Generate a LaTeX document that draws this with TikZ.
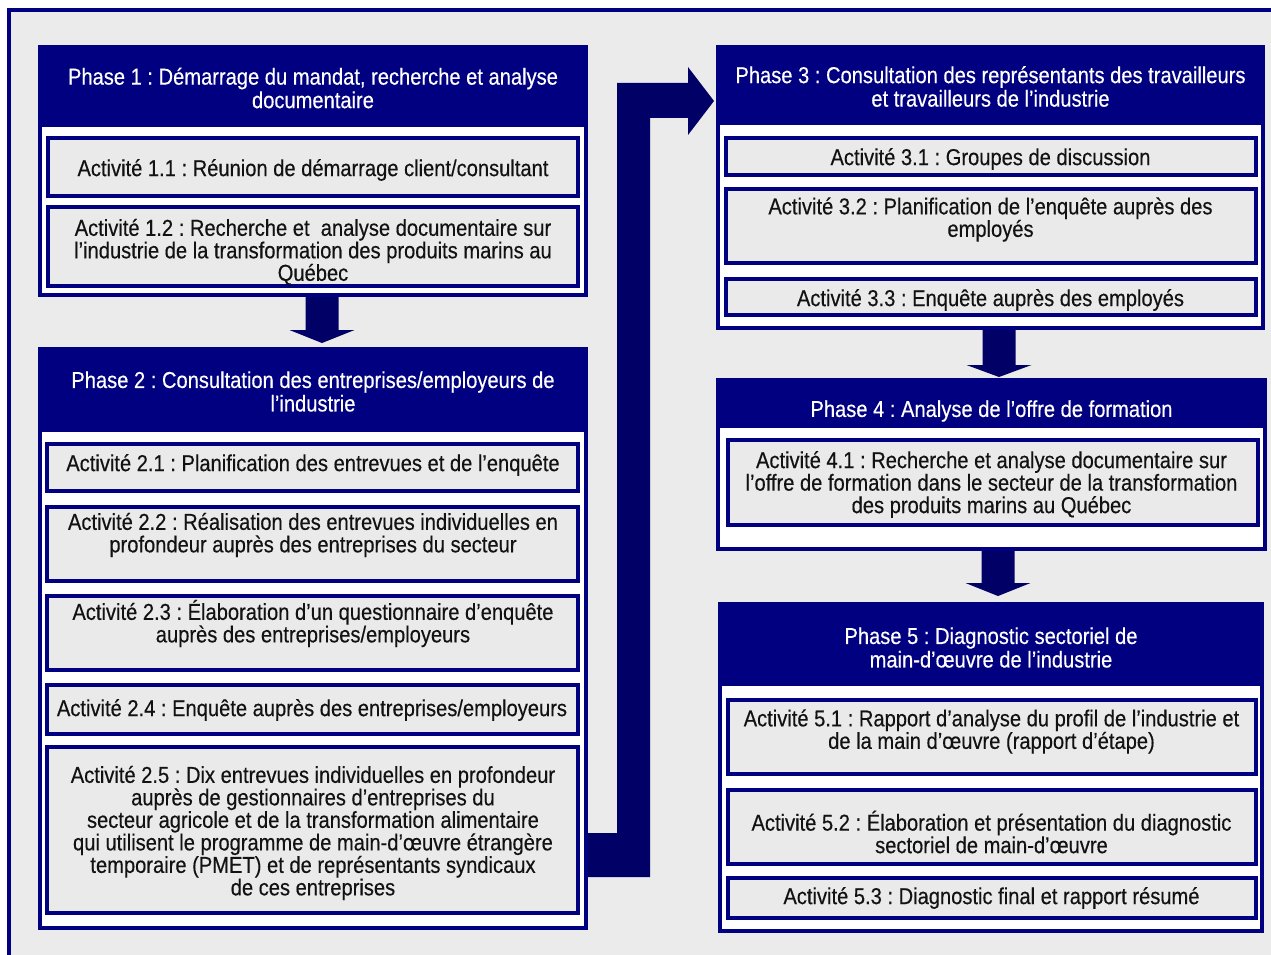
\documentclass[tikz,border=0pt]{standalone}
\usepackage{fontspec}
\setmainfont{Liberation Sans}[FakeStretch=0.875,FakeBold=0.35]
\usetikzlibrary{calc}
\definecolor{navy}{RGB}{0,0,128}
\definecolor{arrownavy}{RGB}{0,0,102}
\definecolor{bggray}{RGB}{235,235,235}
\definecolor{actgray}{RGB}{234,234,234}
\definecolor{txt}{RGB}{18,18,18}
\newcommand\boxnode[6]{\node[#1,minimum width={#5-#3-4},minimum height={#6-#4-4}] (#2) at ({(#3+#5)/2},{(#4+#6)/2}) {};}
\newcommand\phasearrow[3]{\fill[arrownavy] ($(#1)+(-16.5,0)$) -- ++(33,0) -- ++(0,#2) -- ++(16,0) -- ++(-32.5,#3) -- ++(-32.5,-#3) -- ++(16,0) -- cycle;}
\frenchspacing
\begin{document}
\frenchspacing
\begin{tikzpicture}[x=1pt,y=-1pt,
  phasebox/.style={draw=navy,fill=white,line width=4pt,inner sep=0pt,rectangle},
  headbox/.style={draw=navy,fill=navy,line width=4pt,inner sep=0pt,rectangle},
  actbox/.style={draw=navy,fill=actgray,line width=4pt,inner sep=0pt,rectangle},
  htext/.style={text=white,align=center,inner sep=0pt,font=\fontsize{23}{23.5}\selectfont\frenchspacing},
  atext/.style={text=txt,align=center,inner sep=0pt,font=\fontsize{23}{22.5}\selectfont\frenchspacing}]
\useasboundingbox (0,0) rectangle (1271,955);
\clip (0,0) rectangle (1271,955);
\fill[white] (0,0) rectangle (1271,955);
\draw[navy,line width=4pt,fill=bggray] (9,10) rectangle (1290,975);
% Phase 1
\boxnode{phasebox}{p1}{38}{45}{588}{297}
\boxnode{headbox}{p1h}{38}{45}{588}{127}
\node[htext] (p1t) at (313,88) {Phase 1 : Démarrage du mandat, recherche et analyse\\documentaire};
\boxnode{actbox}{a11}{46}{136}{580}{198}
\boxnode{actbox}{a12}{46}{205}{580}{288}
\node[atext] (a11t) at (313,170) {Activité 1.1 : Réunion de démarrage client/consultant};
\node[atext] (a12t) at (313,252) {Activité 1.2 : Recherche et\ \ analyse documentaire sur\\l’industrie de la transformation des produits marins au\\Québec};
% Phase 2
\boxnode{phasebox}{p2}{38}{347}{588}{930}
\boxnode{headbox}{p2h}{38}{347}{588}{432}
\node[htext] (p2t) at (313,391.5) {Phase 2 : Consultation des entreprises/employeurs de\\l’industrie};
\boxnode{actbox}{a21}{45}{442}{580}{493}
\boxnode{actbox}{a22}{45}{505}{580}{583}
\boxnode{actbox}{a23}{45}{594}{580}{672}
\boxnode{actbox}{a24}{45}{683}{580}{736}
\boxnode{actbox}{a25}{45}{745}{580}{915}
\node[atext] (a21t) at (313,465) {Activité 2.1 : Planification des entrevues et de l’enquête};
\node[atext] (a22t) at (313,535) {Activité 2.2 : Réalisation des entrevues individuelles en\\profondeur auprès des entreprises du secteur};
\node[atext] (a23t) at (313,623.5) {Activité 2.3 : Élaboration d’un questionnaire d’enquête\\auprès des entreprises/employeurs};
\node[atext] (a24t) at (312,710) {Activité 2.4 : Enquête auprès des entreprises/employeurs};
\node[atext] (a25t) at (313,833) {Activité 2.5 : Dix entrevues individuelles en profondeur\\auprès de gestionnaires d’entreprises du\\secteur agricole et de la transformation alimentaire\\qui utilisent le programme de main-d’œuvre étrangère\\temporaire (PMET) et de représentants syndicaux\\de ces entreprises};
% Phase 3
\boxnode{phasebox}{p3}{716}{45}{1265}{330}
\boxnode{headbox}{p3h}{716}{45}{1265}{125}
\node[htext] (p3t) at (990.5,86.5) {Phase 3 : Consultation des représentants des travailleurs\\et travailleurs de l’industrie};
\boxnode{actbox}{a31}{724}{136}{1258}{177}
\boxnode{actbox}{a32}{724}{187}{1258}{265}
\boxnode{actbox}{a33}{724}{277}{1258}{317}
\node[atext] (a31t) at (990.5,159) {Activité 3.1 : Groupes de discussion};
\node[atext] (a32t) at (990.5,219.5) {Activité 3.2 : Planification de l’enquête auprès des\\employés};
\node[atext] (a33t) at (990.5,300) {Activité 3.3 : Enquête auprès des employés};
% Phase 4
\boxnode{phasebox}{p4}{716}{378}{1267}{551}
\boxnode{headbox}{p4h}{716}{378}{1267}{428}
\node[htext] (p4t) at (991.5,411) {Phase 4 : Analyse de l’offre de formation};
\boxnode{actbox}{a41}{726}{438}{1260}{527}
\node[atext] (a41t) at (991.5,484.5) {Activité 4.1 : Recherche et analyse documentaire sur\\l’offre de formation dans le secteur de la transformation\\des produits marins au Québec};
% Phase 5
\boxnode{phasebox}{p5}{718}{602}{1264}{933}
\boxnode{headbox}{p5h}{718}{602}{1264}{686}
\node[htext] (p5t) at (991,647.5) {Phase 5 : Diagnostic sectoriel de\\main-d’œuvre de l’industrie};
\boxnode{actbox}{a51}{726}{698}{1258}{776}
\boxnode{actbox}{a52}{726}{788}{1258}{866}
\boxnode{actbox}{a53}{726}{876}{1258}{920}
\node[atext] (a51t) at (991.5,731.5) {Activité 5.1 : Rapport d’analyse du profil de l’industrie et\\de la main d’œuvre (rapport d’étape)};
\node[atext] (a52t) at (991.5,832) {Activité 5.2 : Élaboration et présentation du diagnostic\\sectoriel de main-d’œuvre};
\node[atext] (a53t) at (991.5,898) {Activité 5.3 : Diagnostic final et rapport résumé};
% arrows
\phasearrow{$(p1.south)+(9,0)$}{33}{13}
\phasearrow{$(p3.south)+(8.5,0)$}{35}{12}
\phasearrow{$(p4.south)+(6.5,0)$}{32}{13}
\coordinate (y833) at (0,833);
\coordinate (y877) at (0,877);
\coordinate (y101) at (0,101);
\fill[arrownavy] (p2.east |- y833) -- (617,833) -- (617,83) -- (688,83) -- (688,67)
  -- ($(p3.west |- y101)+(-2,0)$) -- (688,135) -- (688,118) -- (650,118) -- (650,877) -- (p2.east |- y877) -- cycle;
\end{tikzpicture}
\end{document}
